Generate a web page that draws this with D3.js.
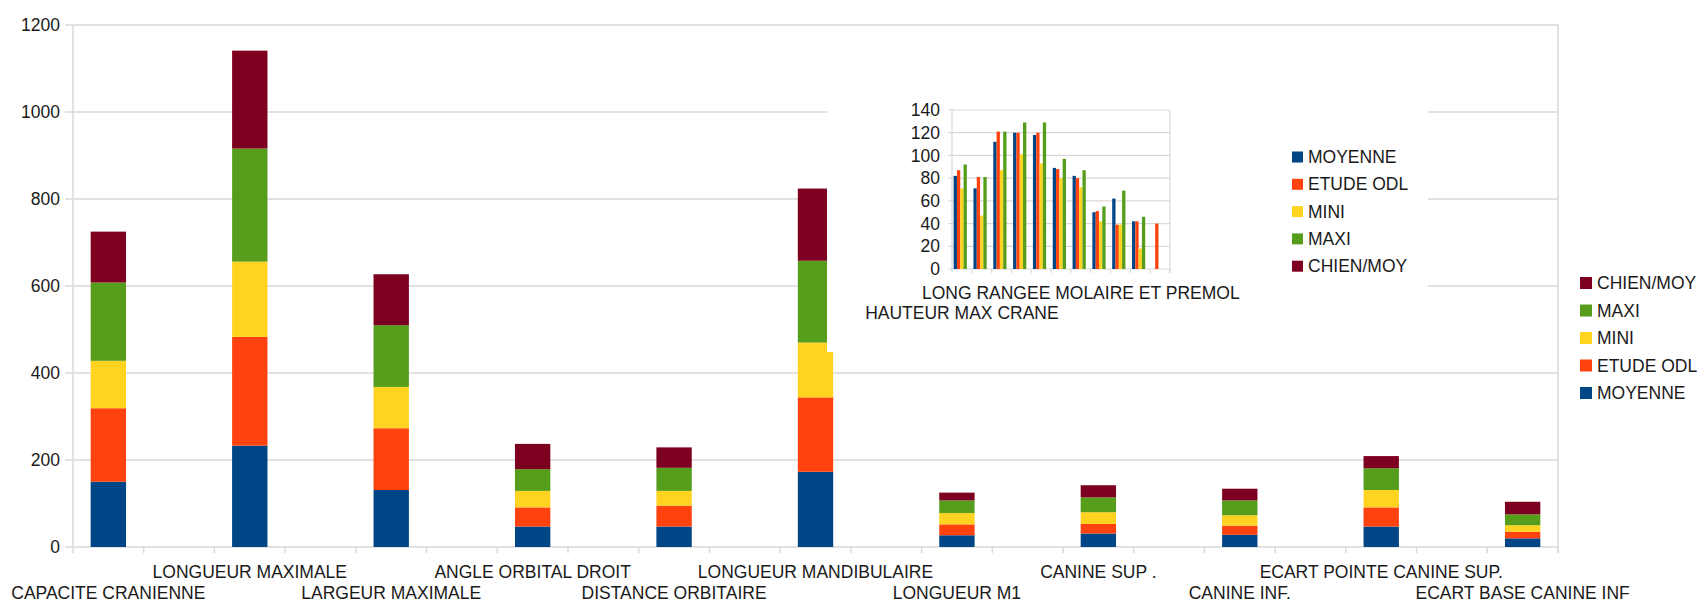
<!DOCTYPE html>
<html>
<head>
<meta charset="utf-8">
<script src="https://cdn.jsdelivr.net/npm/d3@7"></script>
<style>
  body { margin: 0; background: #fff; }
  svg text { font-family: "Liberation Sans", Arial, sans-serif; font-size: 17.5px; fill: #1a1a1a; }
</style>
</head>
<body>
<svg width="1700" height="602"></svg>
<script>
// series shared by both charts
const series = ["MOYENNE", "ETUDE ODL", "MINI", "MAXI", "CHIEN/MOY"];
const colors = ["#004586", "#ff420e", "#ffd320", "#579d1c", "#7e0021"];

// main stacked chart
const categories = ["CAPACITE CRANIENNE", "LONGUEUR MAXIMALE", "LARGEUR MAXIMALE", "ANGLE ORBITAL DROIT",
    "DISTANCE ORBITAIRE", "LONGUEUR MANDIBULAIRE", "LONGUEUR M1", "CANINE SUP .", "CANINE INF.",
    "ECART POINTE CANINE SUP.", "ECART BASE CANINE INF"];
const moyenne = [150, 233, 131, 47, 47, 173, 27, 31, 28, 47, 20];
const etudeOdl = [169, 250, 142, 44, 48, 171, 25, 22, 21, 44, 15];
const mini = [109, 173, 95, 38, 34, 126, 26, 27, 24, 40, 15];
const maxi = [180, 260, 142, 50, 53, 188, 29, 34, 34, 50, 25];
const chienMoy = [117, 225, 117, 58, 47, 166, 18, 28, 27, 28, 29];
const yTicks = [0, 200, 400, 600, 800, 1000, 1200];

// small inset chart
const insetCategories = ["HAUTEUR MAX CRANE", "", "", "", "", "", "LONG RANGEE MOLAIRE ET PREMOL", "", "", "", ""];
const insetMoyenne = [82, 71, 112, 120, 118, 89, 82, 50, 62, 42, 0];
const insetEtudeOdl = [87, 81, 121, 120, 120, 88, 80, 51, 39, 42, 40];
const insetMini = [71, 47, 87, 101, 93, 80, 72, 42, 39, 18, 0];
const insetMaxi = [92, 81, 121, 129, 129, 97, 87, 55, 69, 46, 0];
const insetChienMoy = [0, 0, 0, 0, 0, 0, 0, 0, 0, 0, 0];
const insetTicks = [0, 20, 40, 60, 80, 100, 120, 140];

const svg = d3.select("svg");
const grid = "#d9d9d9";

//////////// MAIN CHART ////////////

const plotLeft = 73, plotRight = 1558, plotTop = 25, plotBottom = 547;
const nSlots = categories.length * 2 - 1;

const x = d3.scaleBand().domain(d3.range(nSlots)).range([plotLeft, plotRight]);
const y = d3.scaleLinear().domain([0, 1200]).range([plotBottom, plotTop]);

const rows = categories.map(function (c, i) {
    return {
        cat: c, slot: i * 2, index: i,
        "MOYENNE": moyenne[i], "ETUDE ODL": etudeOdl[i], "MINI": mini[i],
        "MAXI": maxi[i], "CHIEN/MOY": chienMoy[i]
    };
});

// grid lines and y labels
svg.append("g").selectAll("line")
    .data(yTicks)
    .join("line")
    .attr("x1", plotLeft - 8).attr("x2", plotRight)
    .attr("y1", d => y(d)).attr("y2", d => y(d))
    .attr("stroke", grid).attr("stroke-width", 1.5);

svg.append("g").selectAll("text")
    .data(yTicks)
    .join("text")
    .attr("x", plotLeft - 13)
    .attr("y", d => y(d))
    .attr("dy", "0.35em")
    .attr("text-anchor", "end")
    .text(d => d);

// axis frame
svg.append("line").attr("x1", plotLeft).attr("x2", plotLeft).attr("y1", plotTop).attr("y2", plotBottom)
    .attr("stroke", grid).attr("stroke-width", 1.5);
svg.append("line").attr("x1", plotRight).attr("x2", plotRight).attr("y1", plotTop).attr("y2", plotBottom + 6)
    .attr("stroke", grid).attr("stroke-width", 1.5);

// x ticks at slot boundaries
svg.append("g").selectAll("line")
    .data(d3.range(nSlots + 1))
    .join("line")
    .attr("x1", d => plotLeft + d * x.step()).attr("x2", d => plotLeft + d * x.step())
    .attr("y1", plotBottom).attr("y2", plotBottom + 6)
    .attr("stroke", grid).attr("stroke-width", 1.5);

const stacked = d3.stack().keys(series)(rows);

svg.append("g").selectAll("g")
    .data(stacked)
    .join("g")
    .attr("fill", (d, i) => colors[i])
    .selectAll("rect")
    .data(d => d)
    .join("rect")
    .attr("x", d => x(d.data.slot) + x.bandwidth() * 0.25)
    .attr("width", x.bandwidth() * 0.5)
    .attr("y", d => y(d[1]))
    .attr("height", d => y(d[0]) - y(d[1]));

// staggered category labels
svg.append("g").selectAll("text")
    .data(rows)
    .join("text")
    .attr("x", d => x(d.slot) + x.bandwidth() / 2)
    .attr("y", d => d.index % 2 === 0 ? 599 : 578)
    .attr("text-anchor", "middle")
    .text(d => d.cat);

// legend on the right (stack order, top series first)
const legend = svg.append("g").selectAll("g")
    .data(series.slice().reverse())
    .join("g")
    .attr("transform", (d, i) => "translate(1580," + (283 + i * 27.5) + ")");
legend.append("rect")
    .attr("x", 0).attr("y", -6).attr("width", 12).attr("height", 12)
    .attr("fill", d => colors[series.indexOf(d)]);
legend.append("text")
    .attr("x", 17).attr("dy", "0.35em")
    .text(d => d);

//////////// INSET CHART ////////////

// white background of the pasted inset
svg.append("rect")
    .attr("x", 827).attr("y", 70)
    .attr("width", 1428 - 827).attr("height", 352 - 70)
    .attr("fill", "#fff");

const iLeft = 952, iRight = 1170, iTop = 110, iBottom = 269;

const ix0 = d3.scaleBand().domain(d3.range(insetCategories.length)).range([iLeft, iRight]);
const ix1 = d3.scaleBand().domain(series).range([0, ix0.bandwidth()]).paddingOuter(0.5);
const iy = d3.scaleLinear().domain([0, 140]).range([iBottom, iTop]);

const insetRows = insetCategories.map(function (c, i) {
    return {
        cat: c, index: i,
        values: [insetMoyenne[i], insetEtudeOdl[i], insetMini[i], insetMaxi[i], insetChienMoy[i]]
    };
});

svg.append("g").selectAll("line")
    .data(insetTicks)
    .join("line")
    .attr("x1", iLeft - 4).attr("x2", iRight)
    .attr("y1", d => iy(d)).attr("y2", d => iy(d))
    .attr("stroke", grid).attr("stroke-width", 1.2);

svg.append("g").selectAll("text")
    .data(insetTicks)
    .join("text")
    .attr("x", iLeft - 12)
    .attr("y", d => iy(d))
    .attr("dy", "0.35em")
    .attr("text-anchor", "end")
    .text(d => d);

svg.append("line").attr("x1", iLeft).attr("x2", iLeft).attr("y1", iTop).attr("y2", iBottom)
    .attr("stroke", grid).attr("stroke-width", 1.2);
svg.append("line").attr("x1", iRight).attr("x2", iRight).attr("y1", iTop).attr("y2", iBottom + 4)
    .attr("stroke", grid).attr("stroke-width", 1.2);

svg.append("g").selectAll("line")
    .data(d3.range(insetCategories.length + 1))
    .join("line")
    .attr("x1", d => iLeft + d * ix0.step()).attr("x2", d => iLeft + d * ix0.step())
    .attr("y1", iBottom).attr("y2", iBottom + 4)
    .attr("stroke", grid).attr("stroke-width", 1.2);

svg.append("g").selectAll("g")
    .data(insetRows)
    .join("g")
    .attr("transform", d => "translate(" + ix0(d.index) + ",0)")
    .selectAll("rect")
    .data(d => d.values.map((v, k) => ({ key: series[k], value: v, color: colors[k] })))
    .join("rect")
    .attr("x", d => ix1(d.key))
    .attr("width", ix1.bandwidth())
    .attr("y", d => iy(d.value))
    .attr("height", d => iy(0) - iy(d.value))
    .attr("fill", d => d.color);

// only two labels survive the overlap in the inset
svg.append("g").selectAll("text")
    .data(insetRows.filter(d => d.cat !== ""))
    .join("text")
    .attr("x", d => ix0(d.index) + ix0.bandwidth() / 2)
    .attr("y", d => d.index === 0 ? 319 : 299)
    .attr("text-anchor", "middle")
    .text(d => d.cat);

const insetLegend = svg.append("g").selectAll("g")
    .data(series)
    .join("g")
    .attr("transform", (d, i) => "translate(1292," + (157 + i * 27.3) + ")");
insetLegend.append("rect")
    .attr("x", 0).attr("y", -5.5).attr("width", 11).attr("height", 11)
    .attr("fill", (d, i) => colors[i]);
insetLegend.append("text")
    .attr("x", 16).attr("dy", "0.35em")
    .text(d => d);
</script>
</body>
</html>
